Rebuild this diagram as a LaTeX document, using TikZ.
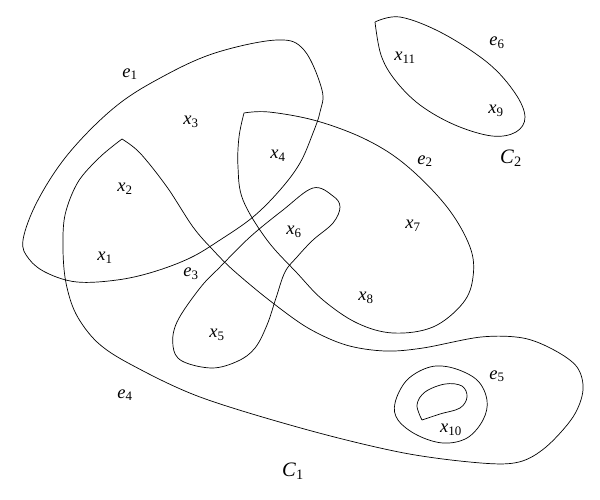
\documentclass[tikz,border=0pt]{standalone}
\usepackage{fontspec}
\setmainfont{Liberation Serif}
\usepackage{tikz}

\newcommand{\vx}[2]{\textit{#1}\textsubscript{#2}}

\begin{document}
\begin{tikzpicture}[x=1pt,y=-1pt,line width=0.7pt,
    lbl/.style={font=\fontsize{18.5}{20}\selectfont,inner sep=0pt}]
            \useasboundingbox (0,0) rectangle (600,499);

            % e1
            \draw plot[smooth cycle,tension=0.6] coordinates {(23,240) (38,200) (69,153) (115,107) (162,77) (215,53) (277,40) (304,50) (322,90) (320,112) (313,133) (300,163) (280,190) (253,217) (220,240) (190,258) (153,272) (117,280) (77,282) (47,273) (29,259)};
            % e2
            \draw plot[smooth,tension=0.6] coordinates {(244,113) (269,112) (317,121) (367,140) (407,166) (447,207) (470,247) (473,277) (463,303) (433,327) (393,333) (357,323) (323,300) (297,273) (267,240) (243,200) (238,167) (239,137) (244,113)};
            % e3
            \draw plot[smooth cycle,tension=0.6] coordinates {(313,188) (333,196) (340,207) (333,223) (313,240) (297,257) (285,272) (276,298) (267,325) (255,348) (238,361) (212,368) (182,361) (173,346) (177,322) (200,288) (220,267) (250,237) (283,210)};
            % e4
            \draw plot[smooth,tension=0.55] coordinates {(122,139) (140,153) (167,187) (193,227) (213,250) (233,270) (269,300) (308,328) (346,345) (385,351) (423,348) (481,337) (523,338) (554,350) (577,367) (583,390) (573,417) (546,447) (519,462) (481,463) (404,453) (308,430) (200,397) (130,364) (97,342) (76,314) (66,283) (63,250) (65,215) (78,182) (100,157) (122,139)};
            % e5
            \draw plot[smooth cycle,tension=0.6] coordinates {(395,403) (407,380) (430,367) (453,368) (477,380) (487,400) (483,420) (467,438) (443,443) (417,435) (398,420)};
            \draw plot[smooth,tension=0.6] coordinates {(422,420) (417,405) (425,392) (445,384) (462,386) (467,397) (460,408) (440,414) (422,420)};
            % e6
            \draw plot[smooth,tension=0.6] coordinates {(375,22) (400,17) (442,33) (488,63) (515,93) (525,117) (516,132) (492,136) (455,125) (420,105) (395,80) (381,55) (375,22)};

            \node[lbl] (x1) at (105,258) {\vx{x}{1}};
            \node[lbl] (x2) at (125,189) {\vx{x}{2}};
            \node[lbl] (x3) at (191,122) {\vx{x}{3}};
            \node[lbl] (x4) at (278,156) {\vx{x}{4}};
            \node[lbl] (x5) at (217,335) {\vx{x}{5}};
            \node[lbl] (x6) at (294,232) {\vx{x}{6}};
            \node[lbl] (x7) at (413,226) {\vx{x}{7}};
            \node[lbl] (x8) at (366,298) {\vx{x}{8}};
            \node[lbl] (x9) at (496,111) {\vx{x}{9}};
            \node[lbl] (x10) at (451,430) {\vx{x}{10}};
            \node[lbl] (x11) at (405,58) {\vx{x}{11}};

            \node[lbl] (e1) at (130,74) {\vx{e}{1}};
            \node[lbl] (e2) at (425,161) {\vx{e}{2}};
            \node[lbl] (e3) at (191,274) {\vx{e}{3}};
            \node[lbl] (e4) at (125,395) {\vx{e}{4}};
            \node[lbl] (e5) at (497,376) {\vx{e}{5}};
            \node[lbl] (e6) at (497,43) {\vx{e}{6}};

            \node[lbl,font=\fontsize{20.5}{22}\selectfont] (c1) at (293,471) {\vx{C}{1}};
            \node[lbl,font=\fontsize{20.5}{22}\selectfont] (c2) at (511,158) {\vx{C}{2}};
        \end{tikzpicture}
\end{document}
